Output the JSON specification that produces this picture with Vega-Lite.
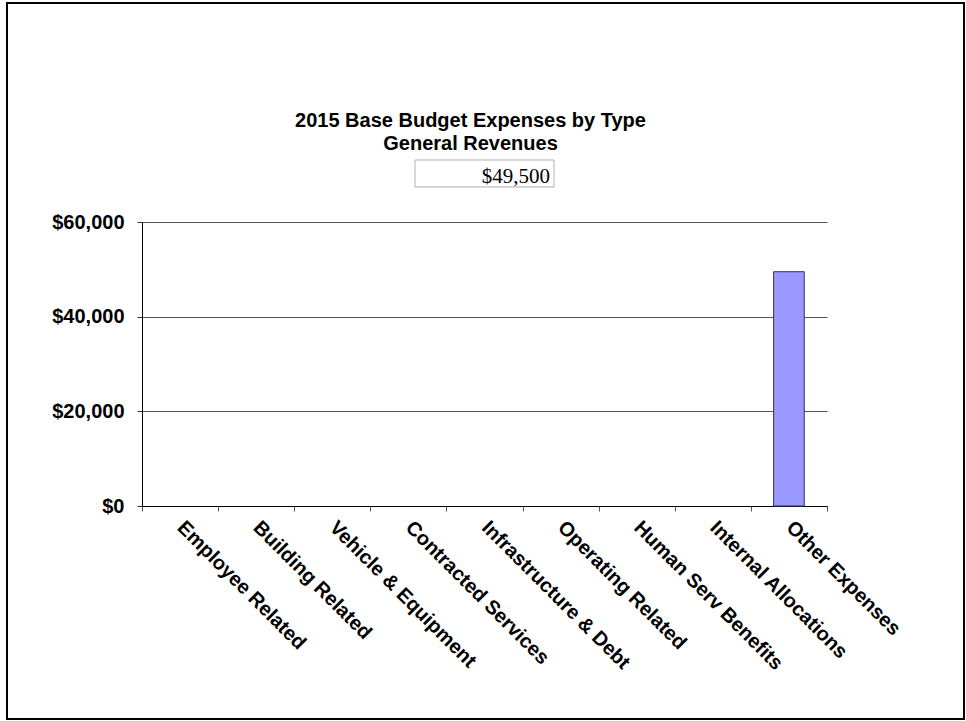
{
  "$schema": "https://vega.github.io/schema/vega-lite/v6.json",
  "width": 957,
  "height": 716,
  "autosize": {"type": "none"},
  "padding": {"left": 7, "top": 3, "right": 2, "bottom": 2},
  "background": "white",
  "title": {
    "text": ["2015 Base Budget Expenses by Type", "General Revenues"],
    "font": "Liberation Sans",
    "fontSize": 20,
    "fontWeight": "bold",
    "lineHeight": 23,
    "color": "black",
    "anchor": "middle",
    "frame": "group",
    "offset": -151,
    "dx": -15
  },
  "config": {
    "view": {"stroke": "black", "strokeWidth": 2, "fill": "white"}
  },
  "layer": [
    {
      "data": {
        "values": [
          {"type": "Employee Related", "amount": 0},
          {"type": "Building Related", "amount": 0},
          {"type": "Vehicle & Equipment", "amount": 0},
          {"type": "Contracted Services", "amount": 0},
          {"type": "Infrastructure & Debt", "amount": 0},
          {"type": "Operating Related", "amount": 0},
          {"type": "Human Serv Benefits", "amount": 0},
          {"type": "Internal Allocations", "amount": 0},
          {"type": "Other Expenses", "amount": 49500}
        ]
      },
      "transform": [{"filter": "datum.amount > 0"}],
      "mark": {"type": "bar", "width": {"band": 0.403}, "fill": "#9999ff", "stroke": "#333366", "strokeWidth": 1},
      "encoding": {
        "x": {
          "field": "type",
          "type": "nominal",
          "sort": null,
          "scale": {
            "domain": ["Employee Related", "Building Related", "Vehicle & Equipment", "Contracted Services", "Infrastructure & Debt", "Operating Related", "Human Serv Benefits", "Internal Allocations", "Other Expenses"],
            "range": [135, 820],
            "paddingInner": 0,
            "paddingOuter": 0
          },
          "axis": {
            "title": null,
            "labelAngle": 45,
            "labelAlign": "left",
            "labelBaseline": "top",
            "labelFont": "Liberation Sans",
            "labelFontWeight": "bold",
            "labelFontSize": 20,
            "labelColor": "black",
            "labelPadding": 6,
            "labelOffset": 7,
            "labelLimit": 400,
            "labelOverlap": false,
            "labelBound": false,
            "tickBand": "extent",
            "tickSize": 5,
            "tickColor": "#555555",
            "domainColor": "black",
            "domainWidth": 1,
            "grid": false,
            "offset": -213
          }
        },
        "y": {
          "field": "amount",
          "type": "quantitative",
          "scale": {"domain": [0, 60000], "range": [503, 219]},
          "axis": {
            "title": null,
            "values": [0, 20000, 40000, 60000],
            "format": "$,.0f",
            "labelFont": "Liberation Sans",
            "labelFontWeight": "bold",
            "labelFontSize": 20,
            "labelColor": "black",
            "labelPadding": 13,
            "tickSize": 5,
            "tickColor": "#333333",
            "domainColor": "black",
            "domainWidth": 1,
            "grid": true,
            "gridColor": "#555555",
            "gridWidth": 1,
            "offset": -135
          }
        }
      }
    },
    {
      "data": {"values": [{"total": 49500}]},
      "mark": {"type": "bar", "width": 139, "fill": "white", "stroke": "#b0b0b0", "strokeWidth": 1, "clip": false},
      "encoding": {
        "x": {"datum": "Infrastructure & Debt", "type": "nominal"},
        "y": {"datum": 73100, "type": "quantitative"},
        "y2": {"datum": 67400}
      }
    },
    {
      "data": {"values": [{"total": 49500}]},
      "mark": {"type": "text", "align": "right", "dx": 65.5, "baseline": "alphabetic", "font": "Liberation Serif", "fontSize": 21, "fill": "black", "clip": false},
      "encoding": {
        "x": {"datum": "Infrastructure & Debt", "type": "nominal"},
        "y": {"datum": 68240, "type": "quantitative"},
        "text": {"field": "total", "type": "quantitative", "format": "$,.0f"}
      }
    }
  ]
}
